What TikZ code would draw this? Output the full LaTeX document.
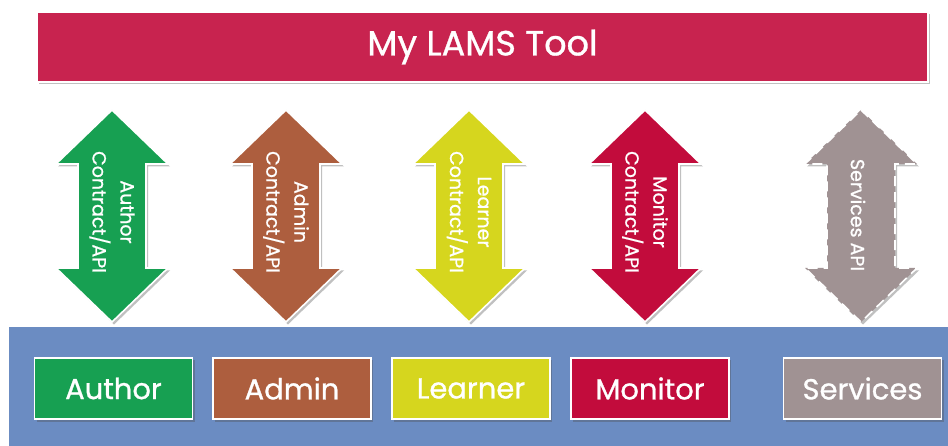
\documentclass[tikz,border=0pt]{standalone}
\usepackage{fontspec}
\setmainfont{Poppins}[BoldFont=Poppins,BoldFeatures={FakeBold=0.9}]
\usetikzlibrary{shadows}
\definecolor{barred}{HTML}{C8234F}
\definecolor{bandblue}{HTML}{6B8CC2}
\definecolor{cauthor}{HTML}{17A052}
\definecolor{cadmin}{HTML}{AD5E3E}
\definecolor{clearner}{HTML}{D6D61E}
\definecolor{cmonitor}{HTML}{C20C3C}
\definecolor{cservices}{HTML}{A09293}
\tikzset{
  softshadow/.style={drop shadow={shadow xshift=2pt,shadow yshift=-2.5pt,opacity=0.35,fill=black!70}},
  rolebox/.style={draw=white,line width=1.6pt,minimum width=158pt,minimum height=61pt,
    inner sep=0pt,text=white,font=\fontsize{29}{32}\selectfont\bfseries,softshadow},
  arrowshape/.style={draw=white,line width=1.6pt,line join=miter,softshadow},
  arrowtext/.style={rotate=-90,align=center,text=white,font=\fontsize{19}{28}\selectfont\bfseries,inner sep=0pt},
}
\newcommand\dblarrow[2]{%
  \draw[arrowshape,#2] (#1,110) -- ++(56,54) -- ++(-22,0) -- ++(0,104) -- ++(22,0)
    -- ++(-56,54) -- ++(-56,-54) -- ++(22,0) -- ++(0,-104) -- ++(-22,0) -- cycle;}
\begin{document}
\begin{tikzpicture}[x=1pt,y=-1pt]
\useasboundingbox[fill=white] (0,0) rectangle (948,446);
% top bar
\node[draw=white,line width=1.6pt,fill=barred,softshadow,minimum width=891pt,minimum height=70pt,
  inner sep=0pt,text=white,font=\fontsize{35}{38}\selectfont\bfseries] (tool) at (482.5,47) {My LAMS Tool};
% blue band
\fill[bandblue] (9,327) rectangle (948,446);
% arrows
\dblarrow{112}{fill=cauthor}
\node[arrowtext] (aapi) at (112,212) {Author\\Contract/API};
\dblarrow{286}{fill=cadmin}
\node[arrowtext] (dapi) at (286,212) {Admin\\Contract/API};
\dblarrow{469}{fill=clearner}
\node[arrowtext] (lapi) at (469,212) {Learner\\Contract/API};
\dblarrow{645}{fill=cmonitor}
\node[arrowtext] (mapi) at (645,212) {Monitor\\Contract/API};
\dblarrow{861}{fill=cservices,dash pattern=on 10pt off 6pt}
\node[arrowtext] (sapi) at (858,215) {Services API};
% role boxes
\node[rolebox,fill=cauthor] (author) at (113.5,388.5) {Author};
\node[rolebox,fill=cadmin] (admin) at (292,388.5) {Admin};
\node[rolebox,fill=clearner] (learner) at (471,388.5) {Learner};
\node[rolebox,fill=cmonitor] (monitor) at (650,388.5) {Monitor};
\node[rolebox,fill=cservices] (services) at (862.5,388.5) {Services};
\end{tikzpicture}
\end{document}
